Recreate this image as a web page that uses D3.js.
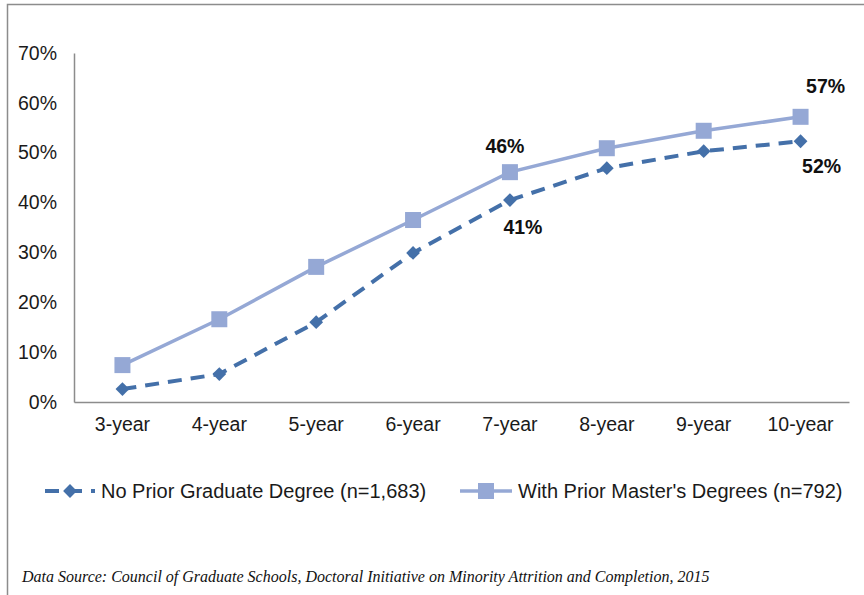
<!DOCTYPE html>
<html><head><meta charset="utf-8">
<script src="https://cdn.jsdelivr.net/npm/d3@7/dist/d3.min.js"></script>
<style>body{margin:0;background:#fff}svg{display:block}</style>
</head><body>
<svg id="c" width="864" height="595"></svg>
<script>
const categories = ["3-year","4-year","5-year","6-year","7-year","8-year","9-year","10-year"];
const noPrior = [2.6, 5.6, 16.0, 29.9, 40.5, 46.9, 50.3, 52.3];
const withMasters = [7.4, 16.6, 27.1, 36.5, 46.1, 50.9, 54.4, 57.2];
const yTicks = [0,10,20,30,40,50,60,70];
const seriesNames = ["No Prior Graduate Degree (n=1,683)", "With Prior Master's Degrees (n=792)"];
const labelsNoPrior = [{i:4, text:"41%"}, {i:7, text:"52%"}];
const labelsMasters = [{i:4, text:"46%"}, {i:7, text:"57%"}];
const source = "Data Source:  Council of Graduate Schools, Doctoral Initiative on Minority Attrition and Completion, 2015";

const dark = "#4470A9", light = "#95A8D5";
const sans = "'Liberation Sans', Arial, sans-serif";
const fs = 19.5;
const svg = d3.select("#c");
svg.append("rect").attr("x",7.5).attr("y",4.5).attr("width",900).attr("height",700)
  .attr("fill","none").attr("stroke","#8c8c8c").attr("stroke-width",1.5);

const x = d3.scaleBand().domain(categories).range([74,849]);
const y = d3.scaleLinear().domain([0,70]).range([402,53]);
const cx = d => x(d) + x.bandwidth()/2;

const yAxis = d3.axisLeft(y).tickValues(yTicks).tickFormat(d=>d+"%").tickSize(0).tickPadding(17);
const ga = svg.append("g").attr("transform","translate(74,0)").call(yAxis);
ga.select(".domain").attr("stroke","#8c8c8c").attr("stroke-width",1.5);
ga.selectAll("text").style("font-family",sans).style("font-size",fs+"px").attr("fill","#1a1a1a");

const xAxis = d3.axisBottom(x).tickSize(0).tickPadding(15);
const gx = svg.append("g").attr("transform","translate(0,402)").call(xAxis);
gx.select(".domain").attr("stroke","#8c8c8c").attr("stroke-width",1.5);
gx.selectAll("text").style("font-family",sans).style("font-size",fs+"px").attr("fill","#1a1a1a").attr("dy","0.71em");

const line = d3.line().x((d,i)=>cx(categories[i])).y(d=>y(d));

// masters
svg.append("path").datum(withMasters).attr("d",line).attr("fill","none").attr("stroke",light).attr("stroke-width",3.5);
svg.selectAll(".sq").data(withMasters).join("rect").attr("class","sq")
  .attr("x",(d,i)=>cx(categories[i])-8).attr("y",d=>y(d)-8).attr("width",16).attr("height",16).attr("fill",light);
// no prior
svg.append("path").datum(noPrior).attr("d",line).attr("fill","none").attr("stroke",dark).attr("stroke-width",4)
  .attr("stroke-dasharray","14,9");
svg.selectAll(".dm").data(noPrior).join("path").attr("class","dm")
  .attr("d",d3.symbol().type(d3.symbolSquare).size(95))
  .attr("transform",(d,i)=>`translate(${cx(categories[i])},${y(d)}) rotate(45)`)
  .attr("fill",dark);

const lblOff = {4:[-5,-19], 7:[25,-24]};
const lblOff2 = {4:[13,34], 7:[21,32]};
labelsMasters.forEach(l=>{
  svg.append("text").attr("x",cx(categories[l.i])+lblOff[l.i][0]).attr("y",y(withMasters[l.i])+lblOff[l.i][1])
    .attr("text-anchor","middle").style("font-family",sans).attr("font-weight","bold").style("font-size",fs+"px").attr("fill","#111").text(l.text);
});
labelsNoPrior.forEach(l=>{
  svg.append("text").attr("x",cx(categories[l.i])+lblOff2[l.i][0]).attr("y",y(noPrior[l.i])+lblOff2[l.i][1])
    .attr("text-anchor","middle").style("font-family",sans).attr("font-weight","bold").style("font-size",fs+"px").attr("fill","#111").text(l.text);
});

// legend
const lg = svg.append("g").style("font-family",sans).style("font-size","20px").attr("fill","#1a1a1a");
lg.append("line").attr("x1",45).attr("x2",95).attr("y1",491).attr("y2",491).attr("stroke",dark).attr("stroke-width",4).attr("stroke-dasharray","14,9");
lg.append("path").attr("transform","translate(70,491) rotate(45)").attr("d",d3.symbol().type(d3.symbolSquare).size(95)).attr("fill",dark);
lg.append("text").attr("x",101).attr("y",491).attr("dy","0.35em").text(seriesNames[0]);
lg.append("line").attr("x1",460).attr("x2",512).attr("y1",491).attr("y2",491).attr("stroke",light).attr("stroke-width",3.5);
lg.append("rect").attr("x",478).attr("y",483).attr("width",16).attr("height",16).attr("fill",light);
lg.append("text").attr("x",518).attr("y",491).attr("dy","0.35em").text(seriesNames[1]);

svg.append("text").attr("x",22).attr("y",582).style("font-family","'Liberation Serif', 'Times New Roman', serif")
  .style("font-style","italic").style("font-size","16px").attr("fill","#111").text(source);
</script>
</body></html>
